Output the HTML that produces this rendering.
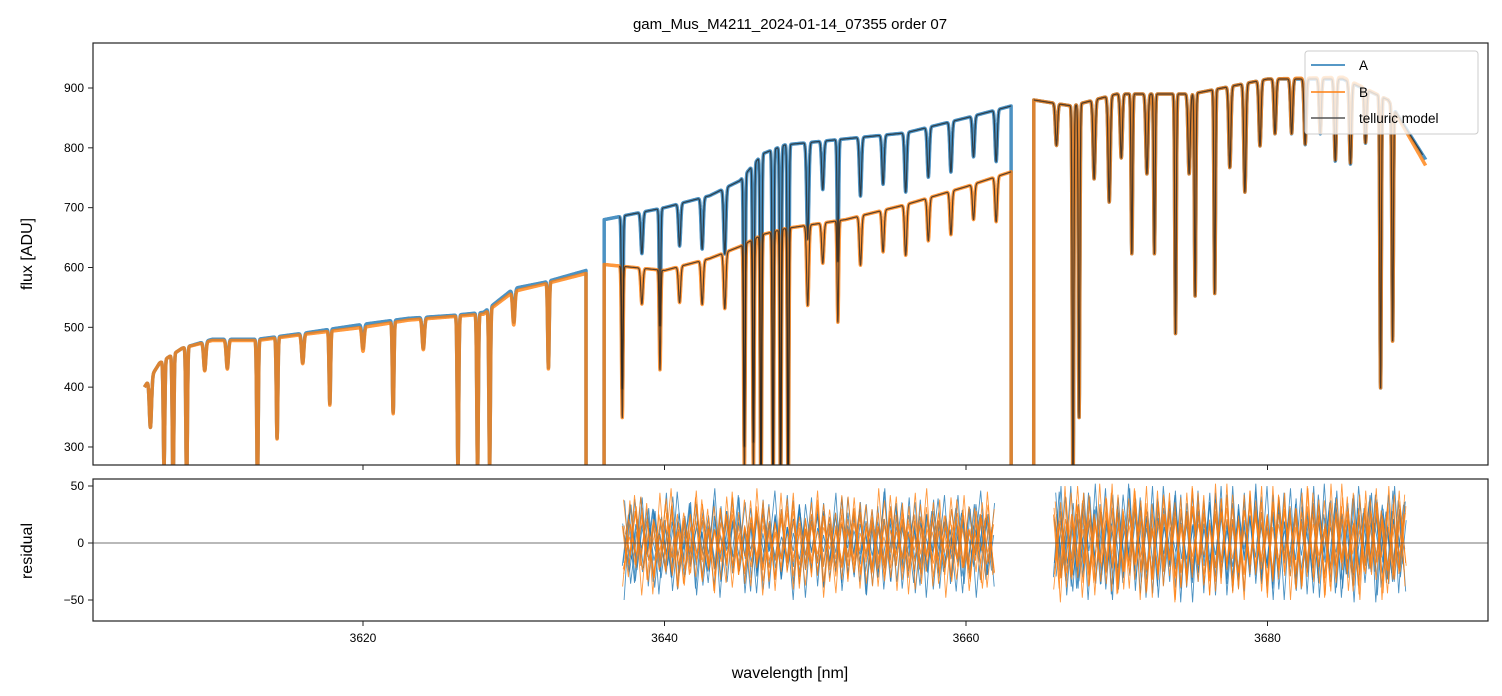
<!DOCTYPE html>
<html><head><meta charset="utf-8"><style>
body{margin:0;background:#fff;}
svg{display:block;font-family:"Liberation Sans","DejaVu Sans",sans-serif;}
</style></head><body>
<svg id="chart" width="1502" height="696" viewBox="0 0 1502 696">
<defs>
<clipPath id="cpTop"><rect x="93" y="43" width="1395" height="422"/></clipPath>
<clipPath id="cpBot"><rect x="93" y="479" width="1395" height="142"/></clipPath>
</defs>
<rect width="1502" height="696" fill="#fff"/>
<text x="790" y="29" text-anchor="middle" font-size="15">gam_Mus_M4211_2024-01-14_07355  order 07</text>
<g id="topPlot" clip-path="url(#cpTop)"></g>
<g id="botPlot" clip-path="url(#cpBot)"></g>
<rect x="93" y="43" width="1395" height="422" fill="none" stroke="#222" stroke-width="1.2"/>
<rect x="93" y="479" width="1395" height="142" fill="none" stroke="#222" stroke-width="1.2"/>
<g id="axes"></g>
<g>
<rect x="1305" y="51" width="173" height="83" rx="3" fill="#fff" fill-opacity="0.8" stroke="#ccc"/>
<line x1="1311" y1="65" x2="1345" y2="65" stroke="#1f77b4" stroke-width="1.5"/>
<text x="1359" y="70" font-size="13.5">A</text>
<line x1="1311" y1="92" x2="1345" y2="92" stroke="#ff7f0e" stroke-width="1.5"/>
<text x="1359" y="97" font-size="13.5">B</text>
<line x1="1311" y1="118" x2="1345" y2="118" stroke="#555" stroke-width="1.5"/>
<text x="1359" y="123" font-size="13.5">telluric model</text>
</g>
<text x="790" y="678" text-anchor="middle" font-size="16">wavelength [nm]</text>
<text transform="translate(32,254) rotate(-90)" text-anchor="middle" font-size="16">flux [ADU]</text>
<text transform="translate(32,551) rotate(-90)" text-anchor="middle" font-size="16">residual</text>
</svg>
<script>
const xTicks=[3620,3640,3660,3680];
const yTicksTop=[300,400,500,600,700,800,900];
const yTicksBot=[-50,0,50];
const contA=[[3605.5,400],[3606.5,440],[3608,465],[3610,480],[3613,480],[3616,490],[3620,505],[3623,515],[3626,520],[3628,525],[3630,565],[3632,575],[3634.8,595],[3636,680],[3640,700],[3643,720],[3645,745],[3646.5,790],[3648,805],[3652,815],[3656,825],[3660,850],[3663,870],[3664.5,880],[3667,870],[3670,890],[3675,890],[3680,915],[3685,915],[3688,880],[3690.5,780]];
const contB=[[3605.5,400],[3606.5,440],[3608,465],[3610,478],[3613,478],[3616,488],[3620,500],[3623,512],[3626,518],[3628,522],[3630,560],[3632,572],[3634.8,590],[3636,605],[3640,595],[3643,615],[3645,635],[3646.5,655],[3648,665],[3652,680],[3656,705],[3660,735],[3663,760],[3664.5,880],[3667,870],[3670,890],[3675,890],[3680,915],[3685,918],[3688,880],[3690.5,770]];
const gaps=[[3634.8,3636.0],[3663.0,3664.5]];
const lines=[[3605.9,0.2],[3606.8,0.4],[3607.4,0.5],[3608.3,0.5],[3609.5,0.1],[3611,0.1],[3613.0,0.5],[3614.3,0.35],[3616,0.1],[3617.8,0.25],[3620,0.08],[3622,0.3],[3624,0.1],[3626.3,0.5],[3627.6,0.5],[3628.4,0.5],[3630,0.1],[3632.3,0.25],
[3637.2,0.42],[3638.5,0.1],[3639.7,0.28],[3641,0.1],[3642.5,0.12],[3644,0.15],[3645.3,0.6],[3645.9,0.6],[3646.4,0.7],[3647.2,0.7],[3647.7,0.7],[3648.2,0.7],[3649.5,0.2],[3650.5,0.1],[3651.5,0.25],[3653,0.12],[3654.5,0.1],[3656,0.12],[3657.5,0.1],[3659,0.1],[3660.5,0.08],[3662,0.1],
[3666,0.08],[3667.1,0.75],[3667.5,0.6],[3668.5,0.15],[3669.5,0.2],[3670.3,0.12],[3671.0,0.3],[3672.0,0.15],[3672.5,0.3],[3673.9,0.45],[3674.8,0.15],[3675.2,0.38],[3676.5,0.38],[3677.5,0.15],[3678.5,0.2],[3679.5,0.12],[3680.5,0.1],[3681.6,0.1],[3682.5,0.12],[3683.5,0.1],[3684.5,0.15],[3685.5,0.15],[3686.5,0.1],[3687.5,0.55],[3688.3,0.45]];
const resSeg1=[3637.2,3661.9];
const resSeg2=[3665.8,3689.2];
const resA1=[-20,25,-35,40,-10,30,-45,20,-30,45,-15,35,-40,10,-25,38,-48,22,-12,42,-36,18,-44,30,-8,46,-28,14,-50,34,-20,40,-38,26,-16,44,-42,12,-30,36,-46,20,-10,48,-34,28,-22,40,-44,16,-26,38,-40,24,-14,42,-36,30,-48,20,-18,35];
const resB1=[15,-30,42,-20,35,-45,25,-10,48,-38,20,-28,40,-15,30,-42,10,-35,45,-22,38,-12,28,-46,18,-32,44,-26,36,-40,22,-16,46,-34,12,-44,30,-20,40,-28,14,-38,48,-24,32,-42,26,-18,44,-36,20,-30,38,-48,16,-22,42,-34,28,-40,18,-26];
const resA2=[-30,45,-20,50,-40,35,-50,25,-15,48,-45,30,-35,52,-25,40,-48,20,-38,50,-10,42,-52,28,-32,46,-44,36,-22,50,-46,18,-40,44,-28,52,-36,24,-50,40,-18,48,-42,32,-26,50,-48,22,-34,46,-40,28,-52,38,-20,44,-46,30,-36,50,-30,20];
const resB2=[25,-40,50,-30,38,-48,20,-35,52,-25,44,-45,30,-20,48,-50,35,-28,46,-38,22,-52,40,-32,50,-18,42,-46,28,-36,52,-44,24,-40,46,-26,50,-48,34,-22,44,-50,30,-38,48,-34,26,-46,52,-30,40,-42,20,-50,46,-28,36,-44,50,-32,30,-20];

const NS='http://www.w3.org/2000/svg';
const X=l=>363+(l-3620)*15.075;
const YT=v=>88+(900-v)*0.5983;
const YB=v=>543-v*1.14;
function mk(t,a,p){const e=document.createElementNS(NS,t);for(const k in a)e.setAttribute(k,a[k]);p.appendChild(e);return e;}
function cont(arr,l){for(let i=0;i<arr.length-1;i++){if(l<=arr[i+1][0]){const f=(l-arr[i][0])/(arr[i+1][0]-arr[i][0]);return arr[i][1]+f*(arr[i+1][1]-arr[i][1]);}}return arr[arr.length-1][1];}
function absorb(l){let f=1;for(const [c,d] of lines){const w=d>0.2?0.07:0.1;const z=(l-c)/w;f*=1-d*Math.exp(-(z*z));}return f;}
function inGap(l){return gaps.some(g=>l>g[0]&&l<g[1]);}
const topG=document.getElementById('topPlot'),botG=document.getElementById('botPlot'),axG=document.getElementById('axes');
function spec(arr,color,op,w,from,to,name){let d='';for(let l=from;l<=to;l+=0.01){const v=inGap(l)?0:cont(arr,l)*absorb(l);d+=(d?'L':'M')+X(l).toFixed(1)+','+YT(v).toFixed(1);}
const p=mk('path',{d:d,fill:'none',stroke:color,'stroke-width':w,'stroke-opacity':op,'stroke-linejoin':'round'},topG);

}
spec(contA,'#1f77b4',0.8,3.5,3605.5,3690.5,'series-a');
spec(contB,'#ff7f0e',0.8,3.5,3605.5,3690.5,'series-b');
spec(contA,'#222',0.75,1.2,3637,3663,'model-a');
spec(contB,'#222',0.75,1.2,3637,3663,'model-b');
spec(contA,'#222',0.75,1.2,3664.5,3690.3,'model-red');
function res(vals,seg,color,name){let d='';vals.forEach((v,i)=>{const l=seg[0]+(seg[1]-seg[0])*i/(vals.length-1);d+=(i?'L':'M')+X(l).toFixed(1)+','+YB(v).toFixed(1);});
const p=mk('path',{d:d,fill:'none',stroke:color,'stroke-width':0.9,'stroke-opacity':0.8},botG);

}
[[resA1,resSeg1,'res-a-1'],[resA2,resSeg2,'res-a-2']].forEach(r=>{for(let k=0;k<8;k++){res(r[0].map((v,i)=>r[0][(i+k*7)%r[0].length]*(1-(k%4)*0.15)),[r[1][0]+k*0.03,r[1][1]-k*0.03],'#1f77b4',r[2]);}});
[[resB1,resSeg1,'res-b-1'],[resB2,resSeg2,'res-b-2']].forEach(r=>{for(let k=0;k<8;k++){res(r[0].map((v,i)=>r[0][(i+k*5)%r[0].length]*(1-(k%4)*0.15)),[r[1][0]+k*0.02,r[1][1]-k*0.02],'#ff7f0e',r[2]);}});
const zl=mk('line',{x1:93,x2:1488,y1:YB(0),y2:YB(0),stroke:'#444','stroke-width':0.7},botG);


xTicks.forEach(t=>{const x=X(t);
mk('line',{x1:x,x2:x,y1:465,y2:470,stroke:'#222'},axG);
mk('line',{x1:x,x2:x,y1:621,y2:626,stroke:'#222'},axG);
const tx=mk('text',{x:x,y:642,'text-anchor':'middle','font-size':12},axG);tx.textContent=t;

});
yTicksTop.forEach(t=>{const y=YT(t);mk('line',{x1:88,x2:93,y1:y,y2:y,stroke:'#222'},axG);
const tx=mk('text',{x:84,y:y+4,'text-anchor':'end','font-size':12},axG);tx.textContent=t;

});
yTicksBot.forEach(t=>{const y=YB(t);mk('line',{x1:88,x2:93,y1:y,y2:y,stroke:'#222'},axG);
const tx=mk('text',{x:84,y:y+4,'text-anchor':'end','font-size':12},axG);tx.textContent=(t<0?'\u2212'+(-t):t);

});
</script>
</body></html>
